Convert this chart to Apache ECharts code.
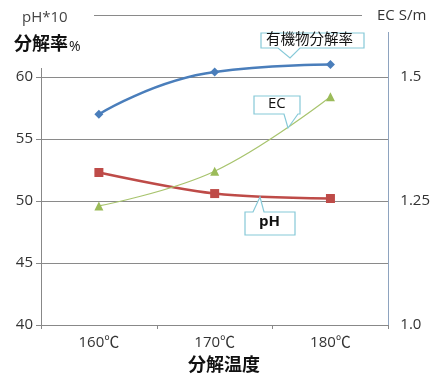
<!DOCTYPE html>
<html><head><meta charset="utf-8">
<script src="https://cdn.jsdelivr.net/npm/echarts@6/dist/echarts.min.js"></script>
<style>html,body{margin:0;padding:0;background:#fff}#c{width:433px;height:379px}</style>
</head><body><div id="c"></div>
<script>
var categories = ['160℃', '170℃', '180℃'];
var decomposition = [57.0, 60.4, 61.0];   // 有機物分解率 (%)
var ph10 = [52.3, 50.6, 50.2];            // pH*10
var ec = [1.24, 1.31, 1.46];              // EC S/m
var leftTicks = [40, 45, 50, 55, 60];
var rightTicks = ['1.0', '1.25', '1.5'];

var font = '"Open Sans", "Noto Sans CJK JP", sans-serif';
var cjk = '"Noto Sans CJK JP", sans-serif';
var chart = echarts.init(document.getElementById('c'));

function callout(bx1, by1, bx2, by2, p1, p2, tip, down) {
  var pts = [];
  if (down) {
    pts = [[bx1, by1], [bx2, by1], [bx2, by2], [p2, by2], tip, [p1, by2], [bx1, by2]];
  } else {
    pts = [[bx1, by1], [p1, by1], tip, [p2, by1], [bx2, by1], [bx2, by2], [bx1, by2]];
  }
  return { type: 'polygon', z: 100, shape: { points: pts },
    style: { fill: '#fff', stroke: '#86c9d8', lineWidth: 1.2 } };
}

chart.setOption({
  animation: false,
  backgroundColor: '#fff',
  grid: { left: 41, right: 38, top: 15, bottom: 54 },
  xAxis: {
    type: 'category', data: categories, boundaryGap: true,
    axisLine: { lineStyle: { color: '#888', width: 1 } },
    axisTick: { show: true, length: 4, lineStyle: { color: '#888' } },
    axisLabel: { color: '#333', fontSize: 15, fontFamily: font, margin: 10 }
  },
  yAxis: [
    { type: 'value', min: 40, max: 65, interval: 5,
      axisLine: { show: true, lineStyle: { color: '#888' } },
      axisTick: { show: true, length: 5, lineStyle: { color: '#888' } },
      splitLine: { lineStyle: { color: '#8a8a8a', width: 1 } },
      axisLabel: { color: '#333', fontSize: 15, fontFamily: font, margin: 8,
        formatter: function (v) { return leftTicks.indexOf(v) >= 0 ? String(v) : ''; } } },
    { type: 'value', min: 1.0, max: 1.625, interval: 0.125, position: 'right',
      axisLine: { show: true, lineStyle: { color: '#8ea3bf' } },
      axisTick: { show: false },
      splitLine: { show: false },
      axisLabel: { color: '#333', fontSize: 15, fontFamily: font, margin: 12,
        padding: [0, 0, 10, 0],
        formatter: function (v) {
          var s = v === 1 ? '1.0' : String(v);
          return rightTicks.indexOf(s) >= 0 ? s : '';
        } } }
  ],
  series: [
    { name: '有機物分解率', type: 'line', data: decomposition, smooth: 0.5,
      symbol: 'diamond', symbolSize: 9, yAxisIndex: 0,
      itemStyle: { color: '#4a7ebb' }, lineStyle: { color: '#4a7ebb', width: 2.5 } },
    { name: 'pH', type: 'line', data: ph10, smooth: 0.3,
      symbol: 'rect', symbolSize: 9, yAxisIndex: 0,
      itemStyle: { color: '#be4b48' }, lineStyle: { color: '#be4b48', width: 2.5 } },
    { name: 'EC', type: 'line', data: ec, smooth: 0.4,
      symbol: 'triangle', symbolSize: 9, yAxisIndex: 1,
      itemStyle: { color: '#9bbb59' }, lineStyle: { color: '#a8c46e', width: 1.2 } }
  ],
  graphic: [
    { type: 'rect', z: 90, shape: { x: 0, y: 0, width: 94, height: 68 }, style: { fill: '#fff' } },
    { type: 'rect', z: 90, shape: { x: 362, y: 0, width: 71, height: 32 }, style: { fill: '#fff' } },
    { type: 'text', z: 101, left: 22, top: 10, style: { text: 'pH*10', font: '15px ' + font, fill: '#444' } },
    { type: 'text', z: 101, left: 14, top: 34, style: { text: '分解率', font: 'bold 18px ' + cjk, fill: '#111' } },
    { type: 'text', z: 101, left: 69, top: 40, style: { text: '%', font: '14px ' + font, fill: '#111' } },
    { type: 'text', z: 101, left: 377, top: 8, style: { text: 'EC S/m', font: '15px ' + font, fill: '#333' } },
    { type: 'text', z: 101, left: 188, top: 355, style: { text: '分解温度', font: 'bold 18px ' + cjk, fill: '#111' } },
    callout(261, 33, 364, 48, 278, 300, [290, 58], true),
    { type: 'text', z: 101, left: 266, top: 31, style: { text: '有機物分解率', font: '14.5px ' + cjk, fill: '#111' } },
    callout(254, 96, 300, 114, 284, 298, [288, 128], true),
    { type: 'text', z: 101, left: 268, top: 96, style: { text: 'EC', font: '15px ' + font, fill: '#111' } },
    callout(245, 212, 295, 235, 253, 264, [260, 197], false),
    { type: 'text', z: 101, left: 259, top: 214, style: { text: 'pH', font: 'bold 15px ' + font, fill: '#111' } }
  ]
});
</script></body></html>
